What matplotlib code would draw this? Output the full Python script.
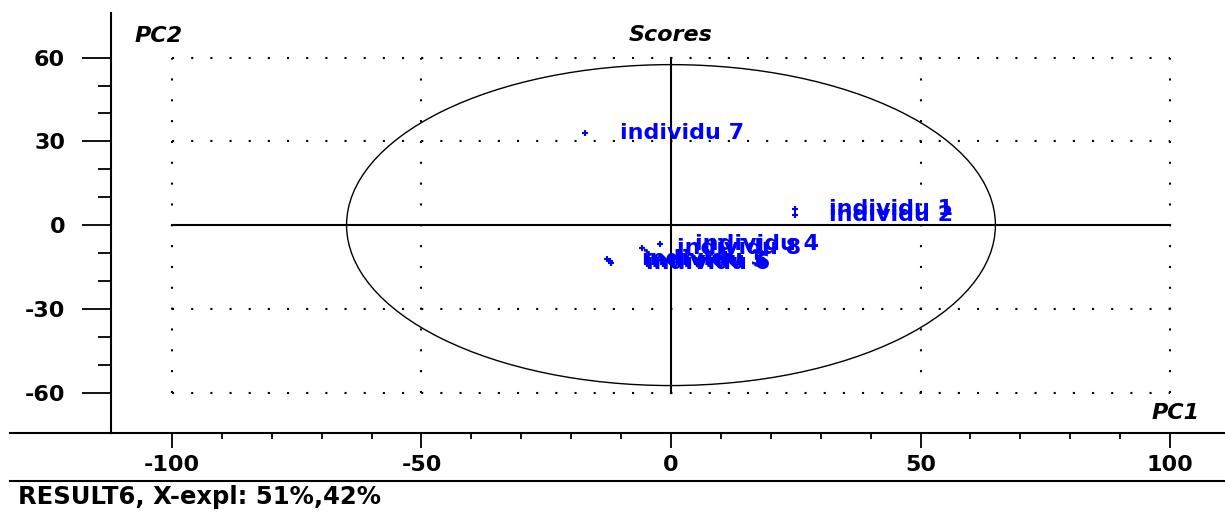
import matplotlib
matplotlib.use("Agg")
import matplotlib.pyplot as plt
from matplotlib.patches import Ellipse
from matplotlib.lines import Line2D
from matplotlib.ticker import FixedLocator

# PCA scores (PC1, PC2) for each individual
labels = ["individu 1", "individu 2", "individu 3", "individu 4",
          "individu 5", "individu 6", "individu 7", "individu 8"]
pc1 = [24.8, 24.8, -12.8, -2.2, -12.3, -12.0, -17.2, -5.8]
pc2 = [5.7, 3.6, -12.0, -6.8, -12.8, -13.5, 33.0, -8.3]

# Hotelling-style ellipse semi-axes
ellipse_a = 65.0
ellipse_b = 57.5

x_major = [-100, -50, 0, 50, 100]
y_major = [-60, -30, 0, 30, 60]
x_minor = list(range(-100, 101, 10))
y_minor = list(range(-60, 61, 10))
x_grid = [-100, -50, 50, 100]
y_grid = [-60, -30, 30, 60]

footer = "RESULT6, X-expl: 51%,42%"

W, H = 1225, 512
fig = plt.figure(figsize=(W / 100, H / 100), dpi=100)
ax = fig.add_axes([111 / W, 79 / H, 1 - 111 / W, (499 - 79) / H])

ax.set_xlim(-112.2, 111.0)
ax.set_ylim(-74.5, 76.0)

for s in ("top", "right"):
    ax.spines[s].set_visible(False)
for s in ("left", "bottom"):
    ax.spines[s].set_linewidth(1.5)

font = dict(family="DejaVu Sans", weight="bold", size=16)

ax.xaxis.set_major_locator(FixedLocator(x_major))
ax.yaxis.set_major_locator(FixedLocator(y_major))
ax.xaxis.set_minor_locator(FixedLocator(x_minor))
ax.yaxis.set_minor_locator(FixedLocator(y_minor))
ax.set_xticklabels([str(v) for v in x_major], **font)
ax.set_yticklabels([str(v) for v in y_major], **font)
ax.tick_params(axis="x", which="major", length=11, width=1.3, pad=5)
ax.tick_params(axis="x", which="minor", length=4, width=1.3)
ax.tick_params(axis="y", which="major", length=21, width=1.3, pad=12)
ax.tick_params(axis="y", which="minor", length=9.5, width=1.3)

# dotted reference grid
for y in y_grid:
    ax.plot([-100, 100], [y, y], color="black", lw=1.5,
            linestyle=(0, (1, 8.2)), dash_capstyle="butt")
for x in x_grid:
    ax.plot([x, x], [-60, 60], color="black", lw=1.5,
            linestyle=(0, (1, 9.0)), dash_capstyle="butt")

# origin axes
ax.plot([-100, 100], [0, 0], color="black", lw=1.5)
ax.plot([0, 0], [-60, 60], color="black", lw=1.5)

ax.add_patch(Ellipse((0, 0), 2 * ellipse_a, 2 * ellipse_b,
                     fill=False, edgecolor="black", lw=1.0))

ax.plot(pc1, pc2, linestyle="none", marker="+", color="#0000ff",
        markersize=5, markeredgewidth=1.5)
for lab, x, y in zip(labels, pc1, pc2):
    ax.annotate(lab, (x, y), xytext=(25, 0), textcoords="offset points",
                ha="left", va="center", color="#0000ff", **font)

ax.text(-107.4, 67.7, "PC2", ha="left", va="center", style="italic", **font)
ax.text(0, 68.0, "Scores", ha="center", va="center", style="italic", **font)
ax.text(106.0, -67.3, "PC1", ha="right", va="center", style="italic", **font)

# baseline extension and footer separator
fig.add_artist(Line2D([10 / W, 111 / W], [79 / H, 79 / H], color="black", lw=1.5))
fig.add_artist(Line2D([10 / W, 1.0], [31 / H, 31 / H], color="black", lw=1.5))
fig.text(18 / W, 15 / H, footer, ha="left", va="center",
         family="DejaVu Sans", weight="bold", size=17.5)

fig.savefig("out.png", dpi=100)
